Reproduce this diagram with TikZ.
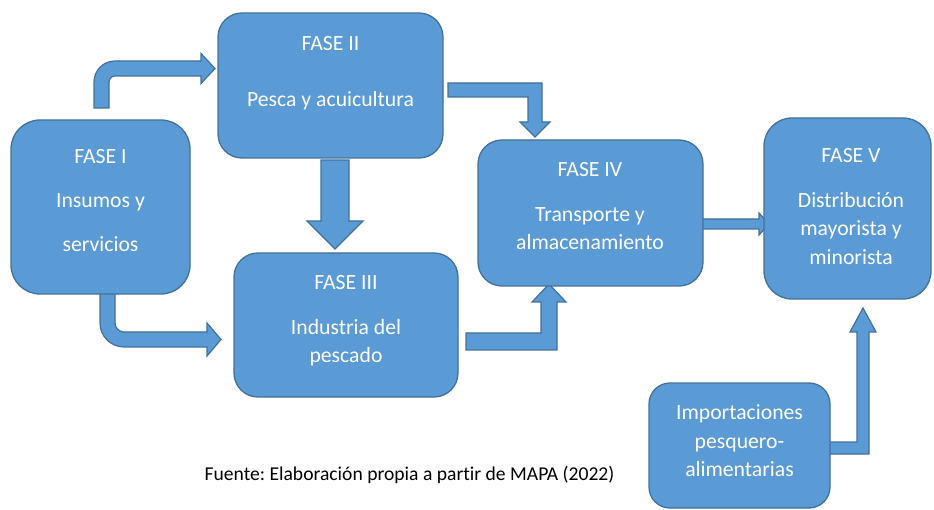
\documentclass[tikz,border=0pt]{standalone}
\usepackage{fontspec}
\setmainfont{Carlito}[Ligatures=NoCommon]
\frenchspacing
\definecolor{boxfill}{HTML}{5B9BD5}
\definecolor{boxline}{HTML}{41719C}
\begin{document}
\begin{tikzpicture}[x=1pt,y=1pt,yscale=-1,
  phase/.style={draw=boxline, fill=boxfill, line width=1.3pt, inner sep=0pt},
  blockarrow/.style={draw=boxline, fill=boxfill, line width=1.2pt, line join=miter},
  boxtext/.style={text=white, font=\fontsize{21.7}{26}\selectfont, anchor=base, inner sep=0pt},
  captext/.style={text=black, font=\fontsize{19.6}{24}\selectfont, anchor=base, inner sep=0pt}]
\useasboundingbox (0,0) rectangle (934,510);

% block arrows
\draw[blockarrow] (94,108) -- (94,82) arc[start angle=180,end angle=270,radius=21] -- (201,61) -- (201,53.5) -- (215,68.5) -- (201,83.5) -- (201,76) -- (115,76) arc[start angle=270,end angle=180,radius=6] -- (109,108) -- cycle;
\draw[blockarrow] (100,285) -- (100,323) arc[start angle=180,end angle=90,radius=24] -- (207,347) -- (207,356) -- (221,339.5) -- (207,323) -- (207,332) -- (124,332) arc[start angle=90,end angle=180,radius=9] -- (115,285) -- cycle;
\draw[blockarrow] (321,160) -- (349,160) -- (349,221) -- (363,221) -- (335,249) -- (307,221) -- (321,221) -- cycle;
\draw[blockarrow] (448,83) -- (542,83) -- (542,122) -- (550,122) -- (535,137) -- (520,122) -- (528,122) -- (528,97) -- (448,97) -- cycle;
\draw[blockarrow] (466,333) -- (541,333) -- (541,302) -- (532,302) -- (549,284) -- (566,302) -- (557,302) -- (557,350) -- (466,350) -- cycle;
\draw[blockarrow] (701,219) -- (759,219) -- (759,213) -- (769,224) -- (759,235) -- (759,229) -- (701,229) -- cycle;
\draw[blockarrow] (829,442) -- (857,442) -- (857,332) -- (850,332) -- (863,308) -- (876,332) -- (869,332) -- (869,454) -- (829,454) -- cycle;

% boxes
\node[phase, minimum width=179pt, minimum height=174pt, rounded corners=29pt] (f1) at (100.5,207) {};
\node[phase, minimum width=225pt, minimum height=145pt, rounded corners=24pt] (f2) at (330.5,85.5) {};
\node[phase, minimum width=224pt, minimum height=144pt, rounded corners=24pt] (f3) at (346,325) {};
\node[phase, minimum width=225pt, minimum height=146pt, rounded corners=24pt] (f4) at (590.5,213) {};
\node[phase, minimum width=167pt, minimum height=181pt, rounded corners=28pt] (f5) at (847.5,208.5) {};
\node[phase, minimum width=181pt, minimum height=125pt, rounded corners=21pt] (imp) at (739.5,445.5) {};

% texts
\node[boxtext] (t1a) at (100.5,163.5) {FASE I};
\node[boxtext] (t1b) at (100.5,207.5) {Insumos y};
\node[boxtext] (t1c) at (100.5,251.5) {servicios};
\node[boxtext] (t2a) at (330.5,51) {FASE II};
\node[boxtext] (t2b) at (330.5,106.5) {Pesca y acuicultura};
\node[boxtext] (t3a) at (346,290) {FASE III};
\node[boxtext] (t3b) at (346,334.5) {Industria del};
\node[boxtext] (t3c) at (346,362.5) {pescado};
\node[boxtext] (t4a) at (590,177) {FASE IV};
\node[boxtext] (t4b) at (590,221.5) {Transporte y};
\node[boxtext] (t4c) at (590,250) {almacenamiento};
\node[boxtext] (t5a) at (851,163) {FASE V};
\node[boxtext] (t5b) at (851,207.5) {Distribución};
\node[boxtext] (t5c) at (851,236) {mayorista y};
\node[boxtext] (t5d) at (851,264.5) {minorista};
\node[boxtext] (t6a) at (739.5,419) {Importaciones};
\node[boxtext] (t6b) at (739.5,448) {pesquero-};
\node[boxtext] (t6c) at (739.5,476.5) {alimentarias};
\node[captext] (cap) at (409.5,480) {Fuente: Elaboración propia a partir de MAPA (2022)};
\end{tikzpicture}
\end{document}
